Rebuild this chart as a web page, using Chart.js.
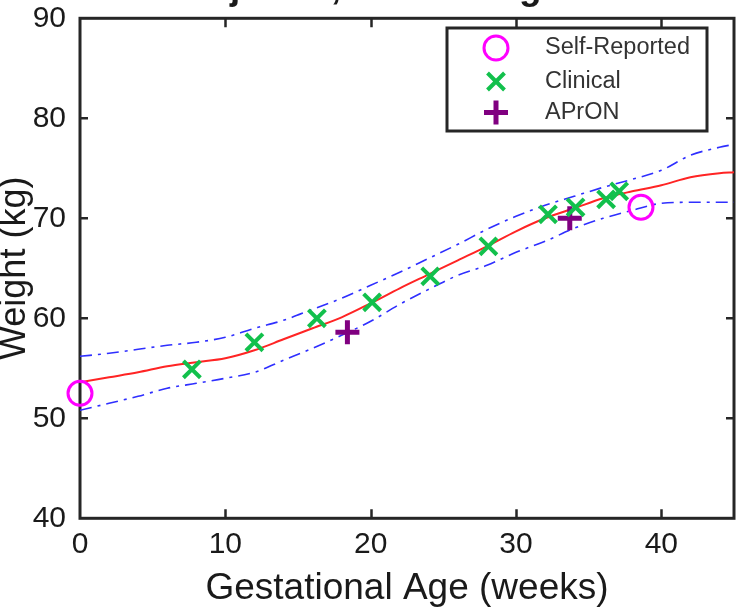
<!DOCTYPE html>
<html>
<head>
<meta charset="utf-8">
<title>Subject A, Child Weight</title>
<script src="https://cdn.jsdelivr.net/npm/chart.js@4.4.1/dist/chart.umd.min.js"></script>
<style>
    html, body { margin: 0; padding: 0; background: #fff; overflow: hidden; }
    body { width: 736px; height: 608px; position: relative; }
    /* figure is cropped: title and y label run off the edges */
    #wrap { position: absolute; left: -9px; top: -33px; width: 760px; height: 644px; }
</style>
</head>
<body>
<div id="wrap"><canvas id="weightChart" width="760" height="644"></canvas></div>
<script>
// Fitted growth curve (mean and bounds), every 2 weeks
const curveWeeks  = [0, 2, 4, 6, 8, 10, 12, 14, 16, 18, 20, 22, 24, 26, 28, 30, 32, 34, 36, 38, 40, 42, 44, 45];
const meanWeight  = [53.6, 54.1, 54.6, 55.2, 55.6, 56.0, 56.8, 57.9, 59.0, 60.1, 61.5, 63.0, 64.4, 65.8, 67.2, 68.7, 70.0, 71.0, 72.0, 72.7, 73.3, 74.1, 74.5, 74.6];
const upperWeight = [56.2, 56.5, 56.9, 57.3, 57.6, 58.1, 59.0, 59.8, 60.9, 62.0, 63.3, 64.6, 66.0, 67.4, 68.9, 70.2, 71.3, 72.2, 73.1, 73.9, 74.8, 76.3, 77.1, 77.4];
const lowerWeight = [50.8, 51.5, 52.2, 53.0, 53.5, 54.0, 54.6, 55.8, 57.0, 58.3, 59.7, 61.4, 62.9, 64.3, 65.3, 66.6, 67.7, 69.0, 70.0, 70.8, 71.5, 71.6, 71.6, 71.6];

// Measurements by source
const selfWeeks     = [0, 38.6];
const selfWeight    = [52.5, 71.1];
const clinicalWeeks  = [7.7, 12.0, 16.3, 20.1, 24.1, 28.1, 32.2, 34.1, 36.2, 37.1];
const clinicalWeight = [54.9, 57.6, 60.0, 61.6, 64.2, 67.2, 70.4, 71.1, 71.9, 72.7];
const apronWeeks  = [18.4, 33.7];
const apronWeight = [58.6, 70.0];

// Axis ticks
const xTickValues = [0, 10, 20, 30, 40];
const yTickValues = [40, 50, 60, 70, 80, 90];

const legendLabels = ['Self-Reported', 'Clinical', 'APrON'];

function toPoints(xs, ys) {
    return xs.map((x, i) => ({ x: x, y: ys[i] }));
}

const FONT = '"Liberation Sans", Arial, Helvetica, sans-serif';
const INK = '#1a1a1a';

/**
 * Box frame with inward tick marks (top, bottom, left)
 */
const frameAxes = {
    id: 'frameAxes',
    beforeDatasetsDraw(chart) {
        const { ctx, chartArea: a, scales: { x, y } } = chart;
        ctx.save();
        ctx.strokeStyle = '#262626';
        ctx.lineWidth = 3;
        ctx.strokeRect(a.left, a.top, a.right - a.left, a.bottom - a.top);

        ctx.lineWidth = 2.5;
        ctx.beginPath();
        xTickValues.forEach(v => {
            if (v === x.min) return;
            const px = Math.round(x.getPixelForValue(v)) + 0.5;
            ctx.moveTo(px, a.bottom);
            ctx.lineTo(px, a.bottom - 9);
            ctx.moveTo(px, a.top);
            ctx.lineTo(px, a.top + 9);
        });
        yTickValues.forEach(v => {
            if (v === y.min || v === y.max) return;
            const py = y.getPixelForValue(v);
            ctx.moveTo(a.left, py);
            ctx.lineTo(a.left + 8, py);
            ctx.moveTo(a.right, py);
            ctx.lineTo(a.right - 8, py);
        });
        ctx.stroke();
        ctx.restore();
    }
};

/**
 * Boxed legend in the upper right of the plot
 */
const boxLegend = {
    id: 'boxLegend',
    afterDraw(chart, args, opts) {
        const { ctx } = chart;
        ctx.save();
        ctx.fillStyle = '#fff';
        ctx.fillRect(opts.left, opts.top, opts.width, opts.height);
        ctx.strokeStyle = '#262626';
        ctx.lineWidth = 3;
        ctx.strokeRect(opts.left, opts.top, opts.width, opts.height);

        const items = chart.data.datasets.filter(ds => legendLabels.includes(ds.label));
        let cy = opts.rowTop;
        items.forEach((ds, i) => {
            cy += opts.rowGap[i];
            ctx.strokeStyle = ds.pointBorderColor;
            ctx.fillStyle = 'rgba(0,0,0,0)';
            ctx.lineWidth = ds.pointBorderWidth;
            Chart.helpers.drawPoint(ctx, {
                pointStyle: ds.pointStyle,
                radius: ds.pointRadius,
                rotation: 0,
                borderWidth: ds.pointBorderWidth
            }, opts.symbolX, cy);

            ctx.fillStyle = '#333333';
            ctx.font = opts.font;
            ctx.textBaseline = 'middle';
            ctx.textAlign = 'left';
            ctx.fillText(ds.label, opts.textX, cy);
        });
        ctx.restore();
    }
};

const ctx = document.getElementById('weightChart');

new Chart(ctx, {
    type: 'scatter',
    data: {
        datasets: [
            {
                label: 'Self-Reported',
                data: toPoints(selfWeeks, selfWeight),
                pointStyle: 'circle',
                pointRadius: 12,
                pointBorderWidth: 3,
                pointBorderColor: '#ff00ff',
                pointBackgroundColor: 'rgba(0,0,0,0)',
                clip: false
            },
            {
                label: 'Clinical',
                data: toPoints(clinicalWeeks, clinicalWeight),
                pointStyle: 'crossRot',
                pointRadius: 12,
                pointBorderWidth: 4,
                pointBorderColor: '#12c04c',
                pointBackgroundColor: 'rgba(0,0,0,0)',
                clip: false
            },
            {
                label: 'APrON',
                data: toPoints(apronWeeks, apronWeight),
                pointStyle: 'cross',
                pointRadius: 12,
                pointBorderWidth: 5,
                pointBorderColor: '#800080',
                pointBackgroundColor: 'rgba(0,0,0,0)',
                clip: false
            },
            {
                label: 'Mean',
                data: toPoints(curveWeeks, meanWeight),
                showLine: true,
                borderColor: '#ff2424',
                borderWidth: 2,
                pointRadius: 0,
                cubicInterpolationMode: 'monotone'
            },
            {
                label: 'Upper',
                data: toPoints(curveWeeks, upperWeight),
                showLine: true,
                borderColor: '#2f2fff',
                borderWidth: 1.6,
                borderDash: [12, 6, 3, 6],
                pointRadius: 0,
                cubicInterpolationMode: 'monotone'
            },
            {
                label: 'Lower',
                data: toPoints(curveWeeks, lowerWeight),
                showLine: true,
                borderColor: '#2f2fff',
                borderWidth: 1.6,
                borderDash: [12, 6, 3, 6],
                pointRadius: 0,
                cubicInterpolationMode: 'monotone'
            }
        ]
    },
    options: {
        responsive: false,
        animation: false,
        events: [],
        layout: {
            padding: { left: 0, right: 5.4, top: 0, bottom: 0 }
        },
        scales: {
            x: {
                type: 'linear',
                min: 0,
                max: 45,
                afterBuildTicks: axis => { axis.ticks = xTickValues.map(v => ({ value: v })); },
                afterFit: axis => { axis.height = 92.7; },
                grid: { display: false, drawTicks: false },
                border: { display: false },
                ticks: {
                    padding: 8,
                    color: INK,
                    font: { family: FONT, size: 30 }
                },
                title: {
                    display: true,
                    text: 'Gestational Age (weeks)',
                    color: INK,
                    padding: { top: 0, bottom: 0 },
                    font: { family: FONT, size: 37 }
                }
            },
            y: {
                type: 'linear',
                min: 40,
                max: 90,
                afterBuildTicks: axis => { axis.ticks = yTickValues.map(v => ({ value: v })); },
                afterFit: axis => { axis.width = 89; },
                grid: { display: false, drawTicks: false },
                border: { display: false },
                ticks: {
                    padding: 14,
                    color: INK,
                    font: { family: FONT, size: 30 }
                },
                title: {
                    display: true,
                    text: 'Weight (kg)',
                    color: INK,
                    padding: { top: 2, bottom: 0 },
                    font: { family: FONT, size: 36 }
                }
            }
        },
        plugins: {
            legend: { display: false },
            tooltip: { enabled: false },
            title: {
                display: true,
                text: 'Subject A, Child Weight',
                color: INK,
                padding: { top: 0, bottom: 6.9 },
                font: { family: FONT, size: 37, weight: 'bold' }
            },
            boxLegend: {
                left: 456,
                top: 61,
                width: 260,
                height: 103,
                symbolX: 505,
                textX: 554,
                rowTop: 81,
                rowGap: [0, 33.5, 31],
                font: '23.5px ' + FONT
            }
        }
    },
    plugins: [frameAxes, boxLegend]
});
</script>
</body>
</html>
